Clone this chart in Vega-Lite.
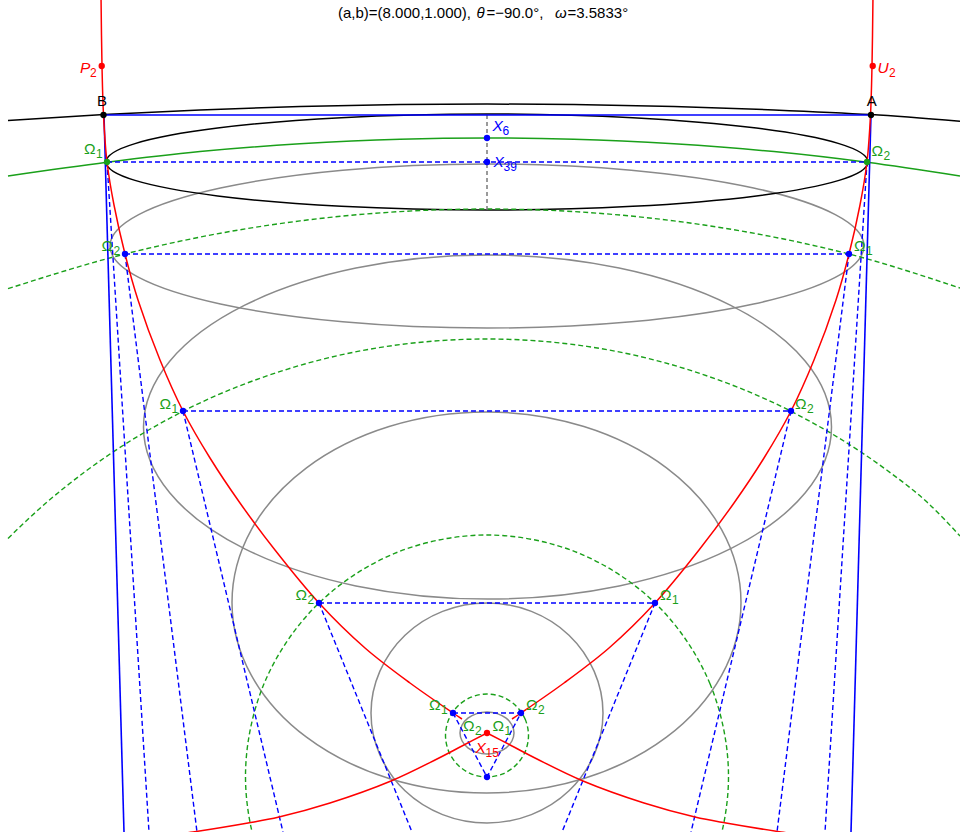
{
"$schema": "https://vega.github.io/schema/vega-lite/v6.json",
"width": 960, "height": 832, "padding": 0,
"autosize": {"type": "fit", "contains": "padding"},
"background": "white",
"config": {"view": {"stroke": null}},
"datasets": {
"curves": [
{"k":"ge","g":"e1","i":0,"x":864,"y":246},{"k":"ge","g":"e1","i":1,"x":835.3,"y":214.6},{"k":"ge","g":"e1","i":2,"x":753.6,"y":188},{"k":"ge","g":"e1","i":3,"x":631.3,"y":170.2},{"k":"ge","g":"e1","i":4,"x":487,"y":164},{"k":"ge","g":"e1","i":5,"x":342.7,"y":170.2},{"k":"ge","g":"e1","i":6,"x":220.4,"y":188},{"k":"ge","g":"e1","i":7,"x":138.7,"y":214.6},{"k":"ge","g":"e1","i":8,"x":110,"y":246},{"k":"ge","g":"e1","i":9,"x":138.7,"y":277.4},{"k":"ge","g":"e1","i":10,"x":220.4,"y":304},{"k":"ge","g":"e1","i":11,"x":342.7,"y":321.8},{"k":"ge","g":"e1","i":12,"x":487,"y":328},{"k":"ge","g":"e1","i":13,"x":631.3,"y":321.8},{"k":"ge","g":"e1","i":14,"x":753.6,"y":304},{"k":"ge","g":"e1","i":15,"x":835.3,"y":277.4},
{"k":"ge","g":"e2","i":0,"x":831.5,"y":427},{"k":"ge","g":"e2","i":1,"x":805.3,"y":361.2},{"k":"ge","g":"e2","i":2,"x":730.7,"y":305.4},{"k":"ge","g":"e2","i":3,"x":619.1,"y":268.1},{"k":"ge","g":"e2","i":4,"x":487.5,"y":255},{"k":"ge","g":"e2","i":5,"x":355.9,"y":268.1},{"k":"ge","g":"e2","i":6,"x":244.3,"y":305.4},{"k":"ge","g":"e2","i":7,"x":169.7,"y":361.2},{"k":"ge","g":"e2","i":8,"x":143.5,"y":427},{"k":"ge","g":"e2","i":9,"x":169.7,"y":492.8},{"k":"ge","g":"e2","i":10,"x":244.3,"y":548.6},{"k":"ge","g":"e2","i":11,"x":355.9,"y":585.9},{"k":"ge","g":"e2","i":12,"x":487.5,"y":599},{"k":"ge","g":"e2","i":13,"x":619.1,"y":585.9},{"k":"ge","g":"e2","i":14,"x":730.7,"y":548.6},{"k":"ge","g":"e2","i":15,"x":805.3,"y":492.8},
{"k":"ge","g":"e3","i":0,"x":741,"y":602.5},{"k":"ge","g":"e3","i":1,"x":721.6,"y":529.6},{"k":"ge","g":"e3","i":2,"x":666.5,"y":467.8},{"k":"ge","g":"e3","i":3,"x":583.9,"y":426.5},{"k":"ge","g":"e3","i":4,"x":486.5,"y":412},{"k":"ge","g":"e3","i":5,"x":389.1,"y":426.5},{"k":"ge","g":"e3","i":6,"x":306.5,"y":467.8},{"k":"ge","g":"e3","i":7,"x":251.4,"y":529.6},{"k":"ge","g":"e3","i":8,"x":232,"y":602.5},{"k":"ge","g":"e3","i":9,"x":251.4,"y":675.4},{"k":"ge","g":"e3","i":10,"x":306.5,"y":737.2},{"k":"ge","g":"e3","i":11,"x":389.1,"y":778.5},{"k":"ge","g":"e3","i":12,"x":486.5,"y":793},{"k":"ge","g":"e3","i":13,"x":583.9,"y":778.5},{"k":"ge","g":"e3","i":14,"x":666.5,"y":737.2},{"k":"ge","g":"e3","i":15,"x":721.6,"y":675.4},
{"k":"ge","g":"e4","i":0,"x":603,"y":713},{"k":"ge","g":"e4","i":1,"x":594.2,"y":671.4},{"k":"ge","g":"e4","i":2,"x":569,"y":635.2},{"k":"ge","g":"e4","i":3,"x":531.4,"y":611.4},{"k":"ge","g":"e4","i":4,"x":487,"y":603},{"k":"ge","g":"e4","i":5,"x":442.6,"y":611.4},{"k":"ge","g":"e4","i":6,"x":405,"y":635.2},{"k":"ge","g":"e4","i":7,"x":379.8,"y":671.4},{"k":"ge","g":"e4","i":8,"x":371,"y":713},{"k":"ge","g":"e4","i":9,"x":379.8,"y":754.6},{"k":"ge","g":"e4","i":10,"x":405,"y":790.8},{"k":"ge","g":"e4","i":11,"x":442.6,"y":814.6},{"k":"ge","g":"e4","i":12,"x":487,"y":823},{"k":"ge","g":"e4","i":13,"x":531.4,"y":814.6},{"k":"ge","g":"e4","i":14,"x":569,"y":790.8},{"k":"ge","g":"e4","i":15,"x":594.2,"y":754.6},
{"k":"ge","g":"e5","i":0,"x":514,"y":733},{"k":"ge","g":"e5","i":1,"x":511.9,"y":725},{"k":"ge","g":"e5","i":2,"x":506.1,"y":718.2},{"k":"ge","g":"e5","i":3,"x":497.3,"y":713.6},{"k":"ge","g":"e5","i":4,"x":487,"y":712},{"k":"ge","g":"e5","i":5,"x":476.7,"y":713.6},{"k":"ge","g":"e5","i":6,"x":467.9,"y":718.2},{"k":"ge","g":"e5","i":7,"x":462.1,"y":725},{"k":"ge","g":"e5","i":8,"x":460,"y":733},{"k":"ge","g":"e5","i":9,"x":462.1,"y":741},{"k":"ge","g":"e5","i":10,"x":467.9,"y":747.8},{"k":"ge","g":"e5","i":11,"x":476.7,"y":752.4},{"k":"ge","g":"e5","i":12,"x":487,"y":754},{"k":"ge","g":"e5","i":13,"x":497.3,"y":752.4},{"k":"ge","g":"e5","i":14,"x":506.1,"y":747.8},{"k":"ge","g":"e5","i":15,"x":511.9,"y":741},
{"k":"ke","g":"ke","i":0,"x":868,"y":162},{"k":"ke","g":"ke","i":1,"x":839,"y":143.6},{"k":"ke","g":"ke","i":2,"x":756.4,"y":128.1},{"k":"ke","g":"ke","i":3,"x":632.8,"y":117.7},{"k":"ke","g":"ke","i":4,"x":487,"y":114},{"k":"ke","g":"ke","i":5,"x":341.2,"y":117.7},{"k":"ke","g":"ke","i":6,"x":217.6,"y":128.1},{"k":"ke","g":"ke","i":7,"x":135,"y":143.6},{"k":"ke","g":"ke","i":8,"x":106,"y":162},{"k":"ke","g":"ke","i":9,"x":135,"y":180.4},{"k":"ke","g":"ke","i":10,"x":217.6,"y":195.9},{"k":"ke","g":"ke","i":11,"x":341.2,"y":206.3},{"k":"ke","g":"ke","i":12,"x":487,"y":210},{"k":"ke","g":"ke","i":13,"x":632.8,"y":206.3},{"k":"ke","g":"ke","i":14,"x":756.4,"y":195.9},{"k":"ke","g":"ke","i":15,"x":839,"y":180.4},
{"k":"ka","g":"k0","i":0,"x":8,"y":120.5},{"k":"ka","g":"k0","i":1,"x":104,"y":114.6},{"k":"ka","g":"k0","i":2,"x":200,"y":109.9},{"k":"ka","g":"k0","i":3,"x":300,"y":106.5},{"k":"ka","g":"k0","i":4,"x":400,"y":104.5},{"k":"ka","g":"k0","i":5,"x":487,"y":104},{"k":"ka","g":"k0","i":6,"x":574,"y":104.5},{"k":"ka","g":"k0","i":7,"x":674,"y":106.5},{"k":"ka","g":"k0","i":8,"x":774,"y":109.9},{"k":"ka","g":"k0","i":9,"x":871,"y":114.6},{"k":"ka","g":"k0","i":10,"x":960,"y":121.2},
{"k":"ga","g":"c0","i":0,"x":8,"y":176},{"k":"ga","g":"c0","i":1,"x":107,"y":162.3},{"k":"ga","g":"c0","i":2,"x":200,"y":151.6},{"k":"ga","g":"c0","i":3,"x":300,"y":143.8},{"k":"ga","g":"c0","i":4,"x":400,"y":139.2},{"k":"ga","g":"c0","i":5,"x":487,"y":138},{"k":"ga","g":"c0","i":6,"x":574,"y":139.2},{"k":"ga","g":"c0","i":7,"x":674,"y":143.8},{"k":"ga","g":"c0","i":8,"x":774,"y":151.6},{"k":"ga","g":"c0","i":9,"x":867,"y":162.3},{"k":"ga","g":"c0","i":10,"x":960,"y":176},
{"k":"gda","g":"c1","i":0,"x":8,"y":288.7},{"k":"gda","g":"c1","i":1,"x":125,"y":254},{"k":"gda","g":"c1","i":2,"x":200,"y":237.1},{"k":"gda","g":"c1","i":3,"x":300,"y":220.9},{"k":"gda","g":"c1","i":4,"x":400,"y":211.6},{"k":"gda","g":"c1","i":5,"x":487,"y":209},{"k":"gda","g":"c1","i":6,"x":574,"y":211.6},{"k":"gda","g":"c1","i":7,"x":674,"y":220.9},{"k":"gda","g":"c1","i":8,"x":774,"y":237.1},{"k":"gda","g":"c1","i":9,"x":849,"y":254},{"k":"gda","g":"c1","i":10,"x":960,"y":288},
{"k":"gda","g":"c2","i":0,"x":8,"y":538.4},{"k":"gda","g":"c2","i":1,"x":47,"y":502.1},{"k":"gda","g":"c2","i":2,"x":87,"y":470.3},{"k":"gda","g":"c2","i":3,"x":183,"y":411.3},{"k":"gda","g":"c2","i":4,"x":287,"y":369.3},{"k":"gda","g":"c2","i":5,"x":387,"y":346.4},{"k":"gda","g":"c2","i":6,"x":487,"y":339},{"k":"gda","g":"c2","i":7,"x":587,"y":346.4},{"k":"gda","g":"c2","i":8,"x":687,"y":369.3},{"k":"gda","g":"c2","i":9,"x":791,"y":411.3},{"k":"gda","g":"c2","i":10,"x":887,"y":470.3},{"k":"gda","g":"c2","i":11,"x":927,"y":502.1},{"k":"gda","g":"c2","i":12,"x":960,"y":536},
{"k":"gdc","g":"c3","i":0,"x":728.5,"y":776.5},{"k":"gdc","g":"c3","i":1,"x":710.1,"y":684.1},{"k":"gdc","g":"c3","i":2,"x":657.8,"y":605.7},{"k":"gdc","g":"c3","i":3,"x":579.4,"y":553.4},{"k":"gdc","g":"c3","i":4,"x":487,"y":535},{"k":"gdc","g":"c3","i":5,"x":394.6,"y":553.4},{"k":"gdc","g":"c3","i":6,"x":316.2,"y":605.7},{"k":"gdc","g":"c3","i":7,"x":263.9,"y":684.1},{"k":"gdc","g":"c3","i":8,"x":245.5,"y":776.5},{"k":"gdc","g":"c3","i":9,"x":263.9,"y":868.9},{"k":"gdc","g":"c3","i":10,"x":316.2,"y":947.3},{"k":"gdc","g":"c3","i":11,"x":394.6,"y":999.6},{"k":"gdc","g":"c3","i":12,"x":487,"y":1018},{"k":"gdc","g":"c3","i":13,"x":579.4,"y":999.6},{"k":"gdc","g":"c3","i":14,"x":657.8,"y":947.3},{"k":"gdc","g":"c3","i":15,"x":710.1,"y":868.9},
{"k":"gdc","g":"c4","i":0,"x":528.5,"y":735.5},{"k":"gdc","g":"c4","i":1,"x":525.3,"y":719.6},{"k":"gdc","g":"c4","i":2,"x":516.3,"y":706.2},{"k":"gdc","g":"c4","i":3,"x":502.9,"y":697.2},{"k":"gdc","g":"c4","i":4,"x":487,"y":694},{"k":"gdc","g":"c4","i":5,"x":471.1,"y":697.2},{"k":"gdc","g":"c4","i":6,"x":457.7,"y":706.2},{"k":"gdc","g":"c4","i":7,"x":448.7,"y":719.6},{"k":"gdc","g":"c4","i":8,"x":445.5,"y":735.5},{"k":"gdc","g":"c4","i":9,"x":448.7,"y":751.4},{"k":"gdc","g":"c4","i":10,"x":457.7,"y":764.8},{"k":"gdc","g":"c4","i":11,"x":471.1,"y":773.8},{"k":"gdc","g":"c4","i":12,"x":487,"y":777},{"k":"gdc","g":"c4","i":13,"x":502.9,"y":773.8},{"k":"gdc","g":"c4","i":14,"x":516.3,"y":764.8},{"k":"gdc","g":"c4","i":15,"x":525.3,"y":751.4},
{"k":"gd","g":"v","i":0,"x":487,"y":115},{"k":"gd","g":"v","i":1,"x":487,"y":210},
{"k":"bs","g":"ab","i":0,"x":104,"y":115},{"k":"bs","g":"ab","i":1,"x":871,"y":115},
{"k":"bs","g":"bl","i":0,"x":104,"y":115},{"k":"bs","g":"bl","i":1,"x":124,"y":832},
{"k":"bs","g":"br","i":0,"x":871,"y":115},{"k":"bs","g":"br","i":1,"x":851,"y":832},
{"k":"bd","g":"h0","i":0,"x":107,"y":162},{"k":"bd","g":"h0","i":1,"x":867,"y":162},
{"k":"bd","g":"l0","i":0,"x":107,"y":162},{"k":"bd","g":"l0","i":1,"x":149,"y":832},
{"k":"bd","g":"r0","i":0,"x":867,"y":162},{"k":"bd","g":"r0","i":1,"x":825,"y":832},
{"k":"bd","g":"h1","i":0,"x":125,"y":254},{"k":"bd","g":"h1","i":1,"x":849,"y":254},
{"k":"bd","g":"l1","i":0,"x":125,"y":254},{"k":"bd","g":"l1","i":1,"x":197,"y":832},
{"k":"bd","g":"r1","i":0,"x":849,"y":254},{"k":"bd","g":"r1","i":1,"x":777,"y":832},
{"k":"bd","g":"h2","i":0,"x":183,"y":411},{"k":"bd","g":"h2","i":1,"x":791,"y":411},
{"k":"bd","g":"l2","i":0,"x":183,"y":411},{"k":"bd","g":"l2","i":1,"x":283,"y":832},
{"k":"bd","g":"r2","i":0,"x":791,"y":411},{"k":"bd","g":"r2","i":1,"x":691,"y":832},
{"k":"bd","g":"h3","i":0,"x":319,"y":603},{"k":"bd","g":"h3","i":1,"x":655,"y":603},
{"k":"bd","g":"l3","i":0,"x":319,"y":603},{"k":"bd","g":"l3","i":1,"x":412,"y":832},
{"k":"bd","g":"r3","i":0,"x":655,"y":603},{"k":"bd","g":"r3","i":1,"x":562,"y":832},
{"k":"bd","g":"t4","i":0,"x":453,"y":713},{"k":"bd","g":"t4","i":1,"x":521,"y":713},{"k":"bd","g":"t4","i":2,"x":487,"y":777},{"k":"bd","g":"t4","i":3,"x":453,"y":713},
{"k":"rd","g":"ul","i":0,"x":101,"y":-5},{"k":"rd","g":"ul","i":1,"x":102,"y":66},{"k":"rd","g":"ul","i":2,"x":103.5,"y":115},{"k":"rd","g":"ul","i":3,"x":107,"y":162},{"k":"rd","g":"ul","i":4,"x":114,"y":205},{"k":"rd","g":"ul","i":5,"x":125,"y":254},{"k":"rd","g":"ul","i":6,"x":138,"y":300},{"k":"rd","g":"ul","i":7,"x":160,"y":360},{"k":"rd","g":"ul","i":8,"x":183,"y":411},{"k":"rd","g":"ul","i":9,"x":210,"y":458},{"k":"rd","g":"ul","i":10,"x":240,"y":503},{"k":"rd","g":"ul","i":11,"x":275,"y":550},{"k":"rd","g":"ul","i":12,"x":319,"y":603},{"k":"rd","g":"ul","i":13,"x":365,"y":648},{"k":"rd","g":"ul","i":14,"x":410,"y":683},{"k":"rd","g":"ul","i":15,"x":453,"y":713},{"k":"rd","g":"ul","i":16,"x":462,"y":719},
{"k":"rd","g":"ur","i":0,"x":873,"y":-5},{"k":"rd","g":"ur","i":1,"x":872,"y":66},{"k":"rd","g":"ur","i":2,"x":870.5,"y":115},{"k":"rd","g":"ur","i":3,"x":867,"y":162},{"k":"rd","g":"ur","i":4,"x":860,"y":205},{"k":"rd","g":"ur","i":5,"x":849,"y":254},{"k":"rd","g":"ur","i":6,"x":836,"y":300},{"k":"rd","g":"ur","i":7,"x":814,"y":360},{"k":"rd","g":"ur","i":8,"x":791,"y":411},{"k":"rd","g":"ur","i":9,"x":764,"y":458},{"k":"rd","g":"ur","i":10,"x":734,"y":503},{"k":"rd","g":"ur","i":11,"x":699,"y":550},{"k":"rd","g":"ur","i":12,"x":655,"y":603},{"k":"rd","g":"ur","i":13,"x":609,"y":648},{"k":"rd","g":"ur","i":14,"x":564,"y":683},{"k":"rd","g":"ur","i":15,"x":521,"y":713},{"k":"rd","g":"ur","i":16,"x":512,"y":719},
{"k":"rd","g":"ll","i":0,"x":487,"y":733},{"k":"rd","g":"ll","i":1,"x":462,"y":746},{"k":"rd","g":"ll","i":2,"x":437,"y":759},{"k":"rd","g":"ll","i":3,"x":391,"y":781},{"k":"rd","g":"ll","i":4,"x":330,"y":803},{"k":"rd","g":"ll","i":5,"x":279,"y":817},{"k":"rd","g":"ll","i":6,"x":248,"y":823},{"k":"rd","g":"ll","i":7,"x":193,"y":832},{"k":"rd","g":"ll","i":8,"x":150,"y":838},
{"k":"rd","g":"lr","i":0,"x":487,"y":733},{"k":"rd","g":"lr","i":1,"x":512,"y":746},{"k":"rd","g":"lr","i":2,"x":537,"y":759},{"k":"rd","g":"lr","i":3,"x":583,"y":781},{"k":"rd","g":"lr","i":4,"x":644,"y":803},{"k":"rd","g":"lr","i":5,"x":695,"y":817},{"k":"rd","g":"lr","i":6,"x":726,"y":823},{"k":"rd","g":"lr","i":7,"x":781,"y":832},{"k":"rd","g":"lr","i":8,"x":824,"y":838}
],
"dots": [
{"x":101.7,"y":66,"grp":"red"},{"x":872.7,"y":66,"grp":"red"},{"x":487,"y":733,"grp":"red"},
{"x":103.5,"y":115,"grp":"black"},{"x":871,"y":115,"grp":"black"},
{"x":107,"y":162,"grp":"green"},{"x":867,"y":162,"grp":"green"},
{"x":487,"y":138,"grp":"blue"},{"x":487,"y":162,"grp":"blue"},
{"x":125,"y":254,"grp":"blue"},{"x":849,"y":254,"grp":"blue"},
{"x":183,"y":411,"grp":"blue"},{"x":791,"y":411,"grp":"blue"},
{"x":319,"y":603,"grp":"blue"},{"x":655,"y":603,"grp":"blue"},
{"x":453,"y":713,"grp":"blue"},{"x":521,"y":713,"grp":"blue"},{"x":487,"y":777,"grp":"blue"}
],
"lbl": [
{"k":"om","t":"Ω","s":"1","x":84,"y":154},{"k":"om","t":"Ω","s":"2","x":871.5,"y":155.5},
{"k":"om","t":"Ω","s":"2","x":101.5,"y":250.5},{"k":"om","t":"Ω","s":"1","x":854,"y":250.5},
{"k":"om","t":"Ω","s":"1","x":159.5,"y":408.5},{"k":"om","t":"Ω","s":"2","x":795,"y":408.5},
{"k":"om","t":"Ω","s":"2","x":295.5,"y":599.5},{"k":"om","t":"Ω","s":"1","x":660,"y":599.5},
{"k":"om","t":"Ω","s":"1","x":429,"y":709.5},{"k":"om","t":"Ω","s":"2","x":526,"y":709.5},
{"k":"om","t":"Ω","s":"2","x":463,"y":730.5},{"k":"om","t":"Ω","s":"1","x":492.5,"y":730.5},
{"k":"x","t":"X","s":"6","x":492.5,"y":130.5,"grp":"blue"},{"k":"x","t":"X","s":"39","x":493.5,"y":167,"grp":"blue"},{"k":"x","t":"X","s":"15","x":475.5,"y":753,"grp":"red"},
{"k":"p","t":"P","s":"2","x":80,"y":72.5},{"k":"u","t":"U","s":"2","x":877.5,"y":72.5},
{"k":"ab","t":"B","x":102,"y":105.5},{"k":"ab","t":"A","x":871.7,"y":105.5}
],
"ttl": [
{"t":"(a,b)=(8.000,1.000),","x":338,"y":18,"it":false},
{"t":"θ","x":476.5,"y":18,"it":true},
{"t":"=−90.0°,","x":486.5,"y":18,"it":false},
{"t":"ω","x":555,"y":18,"it":true},
{"t":"=3.5833°","x":567.5,"y":18,"it":false}
]
},
"encoding": {
"x": {"field":"x","type":"quantitative","scale":{"domain":[0,960],"nice":false,"zero":false},"axis":null},
"y": {"field":"y","type":"quantitative","scale":{"domain":[0,832],"nice":false,"zero":false,"reverse":true},"axis":null}
},
"layer": [
{"data":{"name":"curves"},"transform":[{"filter":"datum.k=='ge'"}],"mark":{"type":"line","interpolate":"cardinal-closed","stroke":"#8a8a8a","strokeWidth":1.5,"clip":true},"encoding":{"detail":{"field":"g"},"order":{"field":"i"}}},
{"data":{"name":"curves"},"transform":[{"filter":"datum.k=='ke'"}],"mark":{"type":"line","interpolate":"cardinal-closed","stroke":"#000000","strokeWidth":1.5,"clip":true},"encoding":{"detail":{"field":"g"},"order":{"field":"i"}}},
{"data":{"name":"curves"},"transform":[{"filter":"datum.k=='ka'"}],"mark":{"type":"line","interpolate":"monotone","stroke":"#000000","strokeWidth":1.5,"clip":true},"encoding":{"detail":{"field":"g"},"order":{"field":"i"}}},
{"data":{"name":"curves"},"transform":[{"filter":"datum.k=='ga'"}],"mark":{"type":"line","interpolate":"monotone","stroke":"#1aa01a","strokeWidth":1.5,"clip":true},"encoding":{"detail":{"field":"g"},"order":{"field":"i"}}},
{"data":{"name":"curves"},"transform":[{"filter":"datum.k=='gda'"}],"mark":{"type":"line","interpolate":"monotone","stroke":"#1aa01a","strokeWidth":1.4,"strokeDash":[5,3],"clip":true},"encoding":{"detail":{"field":"g"},"order":{"field":"i"}}},
{"data":{"name":"curves"},"transform":[{"filter":"datum.k=='gdc'"}],"mark":{"type":"line","interpolate":"cardinal-closed","stroke":"#1aa01a","strokeWidth":1.4,"strokeDash":[5,3],"clip":true},"encoding":{"detail":{"field":"g"},"order":{"field":"i"}}},
{"data":{"name":"curves"},"transform":[{"filter":"datum.k=='gd'"}],"mark":{"type":"line","stroke":"#707070","strokeWidth":1.4,"strokeDash":[4,3],"clip":true},"encoding":{"detail":{"field":"g"},"order":{"field":"i"}}},
{"data":{"name":"curves"},"transform":[{"filter":"datum.k=='bs'"}],"mark":{"type":"line","stroke":"#0000ff","strokeWidth":1.6,"clip":true},"encoding":{"detail":{"field":"g"},"order":{"field":"i"}}},
{"data":{"name":"curves"},"transform":[{"filter":"datum.k=='bd'"}],"mark":{"type":"line","stroke":"#0000ff","strokeWidth":1.4,"strokeDash":[5,3],"clip":true},"encoding":{"detail":{"field":"g"},"order":{"field":"i"}}},
{"data":{"name":"curves"},"transform":[{"filter":"datum.k=='rd'"}],"mark":{"type":"line","interpolate":"catmull-rom","stroke":"#ff0000","strokeWidth":1.5,"clip":true},"encoding":{"detail":{"field":"g"},"order":{"field":"i"}}},
{"data":{"name":"dots"},"mark":{"type":"circle","size":40,"opacity":1},"encoding":{"color":{"field":"grp","type":"nominal","scale":{"domain":["black","blue","green","red"],"range":["#000000","#0000ff","#1aa01a","#ff0000"]},"legend":null}}},
{"data":{"name":"lbl"},"transform":[{"filter":"datum.k=='om'"}],"mark":{"type":"text","align":"left","baseline":"alphabetic","font":"Liberation Sans","fontSize":15.5,"fill":"#1aa01a"},"encoding":{"text":{"field":"t"}}},
{"data":{"name":"lbl"},"transform":[{"filter":"datum.k=='om'"}],"mark":{"type":"text","align":"left","baseline":"alphabetic","font":"Liberation Sans","fontSize":12,"dx":12,"dy":4,"fill":"#1aa01a"},"encoding":{"text":{"field":"s"}}},
{"data":{"name":"lbl"},"transform":[{"filter":"datum.k=='x'"}],"mark":{"type":"text","align":"left","baseline":"alphabetic","font":"Liberation Sans","fontSize":15.5,"fontStyle":"italic"},"encoding":{"text":{"field":"t"},"color":{"field":"grp","type":"nominal","scale":{"domain":["black","blue","green","red"],"range":["#000000","#0000ff","#1aa01a","#ff0000"]},"legend":null}}},
{"data":{"name":"lbl"},"transform":[{"filter":"datum.k=='x'"}],"mark":{"type":"text","align":"left","baseline":"alphabetic","font":"Liberation Sans","fontSize":12,"dx":10,"dy":4},"encoding":{"text":{"field":"s"},"color":{"field":"grp","type":"nominal","scale":{"domain":["black","blue","green","red"],"range":["#000000","#0000ff","#1aa01a","#ff0000"]},"legend":null}}},
{"data":{"name":"lbl"},"transform":[{"filter":"datum.k=='p' || datum.k=='u'"}],"mark":{"type":"text","align":"left","baseline":"alphabetic","font":"Liberation Sans","fontSize":15.5,"fontStyle":"italic","fill":"#ff0000"},"encoding":{"text":{"field":"t"}}},
{"data":{"name":"lbl"},"transform":[{"filter":"datum.k=='p'"}],"mark":{"type":"text","align":"left","baseline":"alphabetic","font":"Liberation Sans","fontSize":12,"dx":10,"dy":4,"fill":"#ff0000"},"encoding":{"text":{"field":"s"}}},
{"data":{"name":"lbl"},"transform":[{"filter":"datum.k=='u'"}],"mark":{"type":"text","align":"left","baseline":"alphabetic","font":"Liberation Sans","fontSize":12,"dx":11.5,"dy":4,"fill":"#ff0000"},"encoding":{"text":{"field":"s"}}},
{"data":{"name":"lbl"},"transform":[{"filter":"datum.k=='ab'"}],"mark":{"type":"text","align":"center","baseline":"alphabetic","font":"Liberation Sans","fontSize":15,"fill":"#000000"},"encoding":{"text":{"field":"t"}}},
{"data":{"name":"ttl"},"transform":[{"filter":"!datum.it"}],"mark":{"type":"text","align":"left","baseline":"alphabetic","font":"Liberation Sans","fontSize":15,"fill":"#000000"},"encoding":{"text":{"field":"t"}}},
{"data":{"name":"ttl"},"transform":[{"filter":"datum.it"}],"mark":{"type":"text","align":"left","baseline":"alphabetic","font":"Liberation Sans","fontSize":15,"fontStyle":"italic","fill":"#000000"},"encoding":{"text":{"field":"t"}}}
]
}
